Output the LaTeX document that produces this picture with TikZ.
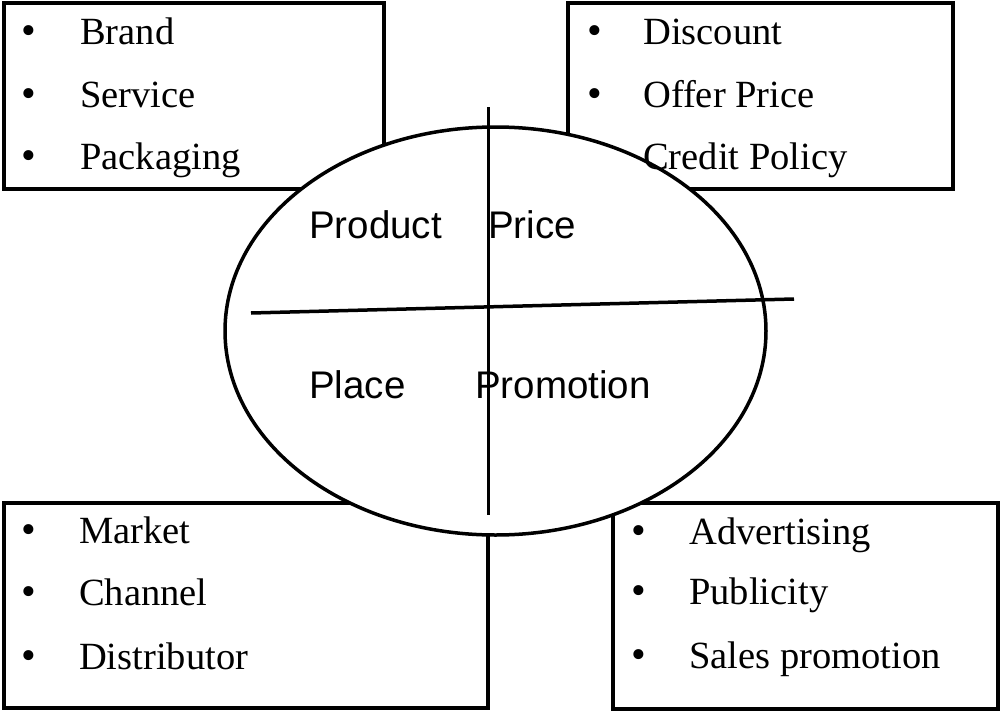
\documentclass[tikz,border=0pt]{standalone}
\usepackage{fontspec}
\setmainfont{Liberation Serif}
\newfontfamily\labelsans{Liberation Sans}
\usetikzlibrary{shapes.geometric}
\tikzset{
  frame/.style={draw=black, line width=3.5pt, inner sep=0pt, outer sep=0pt},
  item/.style={anchor=base west, inner sep=0pt, font=\fontsize{38.5}{40}\selectfont},
  dot/.style={anchor=base, inner sep=0pt, font=\fontsize{42}{44}\selectfont},
  pname/.style={anchor=base west, inner sep=0pt, font=\labelsans\fontsize{38.5}{40}\selectfont},
  axis/.style={draw=black, line width=3pt}
}
\begin{document}
\begin{tikzpicture}[x=1pt,y=-1pt]
\useasboundingbox (0,0) rectangle (1002,712);
% boxes
\node[frame, minimum width=380pt, minimum height=186pt] (tl) at (194,96) {};
\node[frame, minimum width=385pt, minimum height=186pt] (tr) at (760.5,96) {};
\node[frame, minimum width=484pt, minimum height=205pt] (bl) at (246,605.5) {};
\node[frame, minimum width=385pt, minimum height=206pt] (br) at (805.5,606) {};
% ellipse over boxes
\node[ellipse, draw=black, line width=3.5pt, fill=white, inner sep=0pt, outer sep=0pt,
      minimum width=541pt, minimum height=408pt] (mix) at (495.5,331) {};
% axes
\coordinate (vtop) at (488,107);
\coordinate (vbot) at (488,515);
\coordinate (hl) at (251,313);
\coordinate (hr) at (794,299);
\draw[axis] (vtop) -- (vbot);
\draw[axis, line width=3.5pt] (hl) -- (hr);
% quadrant labels
\node[pname] (product) at (309,238) {Product};
\node[pname] (price) at (488,238) {Price};
\node[pname] (place) at (309,398) {Place};
\node[pname] (promotion) at (475,398) {Promotion};
% top-left list
\node[dot] (b1) at (29,45) {•};
\node[item] (brand) at (80,45) {Brand};
\node[dot] (b2) at (29,107) {•};
\node[item] (service) at (80,107) {Service};
\node[dot] (b3) at (29,169) {•};
\node[item] (packaging) at (80,169) {Packaging};
% top-right list
\node[dot] (b4) at (595,45) {•};
\node[item] (discount) at (643,45) {Discount};
\node[dot] (b5) at (595,107) {•};
\node[item] (offer) at (643,107) {Offer Price};
\node[item] (credit) at (643,169) {Credit Policy};
% bottom-left list
\node[dot] (b6) at (29,543) {•};
\node[item] (market) at (79,543) {Market};
\node[dot] (b7) at (29,605) {•};
\node[item] (channel) at (79,605) {Channel};
\node[dot] (b8) at (29,669) {•};
\node[item] (distributor) at (79,669) {Distributor};
% bottom-right list
\node[dot] (b9) at (639,544) {•};
\node[item] (advertising) at (689,544) {Advertising};
\node[dot] (b10) at (639,604) {•};
\node[item] (publicity) at (689,604) {Publicity};
\node[dot] (b11) at (639,668) {•};
\node[item] (sales) at (689,668) {Sales promotion};
\end{tikzpicture}
\end{document}
